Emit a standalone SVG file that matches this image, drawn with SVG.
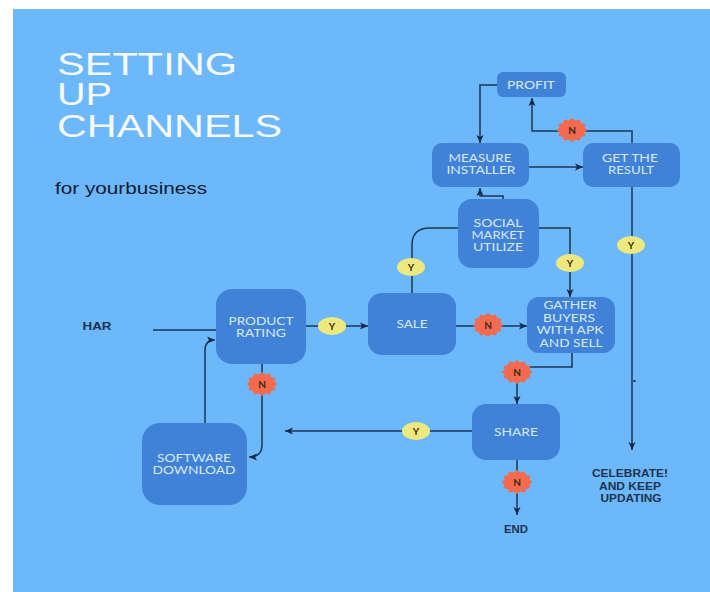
<svg xmlns="http://www.w3.org/2000/svg" xmlns:xlink="http://www.w3.org/1999/xlink" width="710" height="592" viewBox="0 0 710 592">
<style>
.node rect{fill:#4082D8}
.nt{font-family:Lato,"Liberation Sans",sans-serif;font-size:11px;fill:#D8E8FA;text-anchor:middle}
.title{font-family:"Liberation Sans",Arial,sans-serif;font-size:27px;fill:#F6FAFD}
.lbl{font-family:"Liberation Sans",Arial,sans-serif;font-weight:bold;font-size:10px;fill:#1C3350;text-anchor:middle}
.conn path{fill:none;stroke:#1C3656;stroke-width:1.5}
.yb ellipse{fill:#EEE97E}
.nb use{fill:#F46A4E}
.bt{font-family:Lato,"Liberation Sans",sans-serif;font-weight:bold;font-size:10px;fill:#3A2A14;text-anchor:middle}
</style>
<defs>
<marker id="arr" markerUnits="userSpaceOnUse" markerWidth="9" markerHeight="8" refX="8" refY="4" orient="auto">
<path d="M0,0.5 L8,4 L0,7.5 L2,4 Z" fill="#14294A"/>
</marker>
<polygon id="star" points="12,0 9.47,2.54 10.39,6 6.93,6.93 6,10.39 2.54,9.47 0,12 -2.54,9.47 -6,10.39 -6.93,6.93 -10.39,6 -9.47,2.54 -12,0 -9.47,-2.54 -10.39,-6 -6.93,-6.93 -6,-10.39 -2.54,-9.47 0,-12 2.54,-9.47 6,-10.39 6.93,-6.93 10.39,-6 9.47,-2.54"/>
</defs>
<rect x="0" y="0" width="710" height="592" fill="#FFFFFF"/>
<rect x="13" y="9" width="697" height="583" fill="#6CB8FA"/>

<g id="title">
<text class="title" x="57" y="75" transform="translate(0,-10.5) scale(1,1.14)" textLength="180" lengthAdjust="spacingAndGlyphs">SETTING</text>
<text class="title" x="57" y="105" transform="translate(0,-14.7) scale(1,1.14)" textLength="55" lengthAdjust="spacingAndGlyphs">UP</text>
<text class="title" x="57" y="137" transform="translate(0,-19.2) scale(1,1.14)" textLength="225" lengthAdjust="spacingAndGlyphs">CHANNELS</text>
<text x="55" y="194" font-family="Liberation Sans, Arial, sans-serif" font-size="16" fill="#0E1B33" textLength="152" lengthAdjust="spacingAndGlyphs">for yourbusiness</text>
</g>

<g id="connectors" class="conn">
<path d="M153,330 H216"/>
<path d="M205,423 V350 Q205,340 215,340" marker-end="url(#arr)"/>
<path d="M262,364 V445 Q262,457 249,457" marker-end="url(#arr)"/>
<path d="M306,326 H368" marker-end="url(#arr)"/>
<path d="M412,293 V245 Q412,228 430,228 H458"/>
<path d="M539,228 H570 V297" marker-end="url(#arr)"/>
<path d="M503,203 V196 H480 V188" marker-end="url(#arr)"/>
<path d="M529,167 H583" marker-end="url(#arr)"/>
<path d="M497,85 H480 V143" marker-end="url(#arr)"/>
<path d="M632,143 V131 H532 V98" marker-end="url(#arr)"/>
<path d="M632,187 V450" marker-end="url(#arr)"/>
<path d="M633,381 H636"/>
<path d="M456,326 H527" marker-end="url(#arr)"/>
<path d="M572,353 V367 H517 V404" marker-end="url(#arr)"/>
<path d="M472,431 H285" marker-end="url(#arr)"/>
<path d="M517,460 V515" marker-end="url(#arr)"/>
</g>

<g id="node-profit" class="node"><rect x="497" y="72" width="69" height="25" rx="6"/>
<text class="nt" x="531" y="89" textLength="48" lengthAdjust="spacingAndGlyphs">PROFIT</text></g>

<g id="node-measure" class="node"><rect x="432" y="143" width="97" height="44" rx="10"/>
<text class="nt" x="480" y="162" textLength="63" lengthAdjust="spacingAndGlyphs">MEASURE</text>
<text class="nt" x="481" y="174" textLength="69" lengthAdjust="spacingAndGlyphs">INSTALLER</text></g>

<g id="node-result" class="node"><rect x="583" y="143" width="97" height="44" rx="10"/>
<text class="nt" x="630" y="162" textLength="56" lengthAdjust="spacingAndGlyphs">GET THE</text>
<text class="nt" x="631" y="174" textLength="46" lengthAdjust="spacingAndGlyphs">RESULT</text></g>

<g id="node-social" class="node"><rect x="458" y="199" width="81" height="69" rx="14"/>
<text class="nt" x="498" y="227" textLength="49" lengthAdjust="spacingAndGlyphs">SOCIAL</text>
<text class="nt" x="498" y="239" textLength="53" lengthAdjust="spacingAndGlyphs">MARKET</text>
<text class="nt" x="498" y="251" textLength="50" lengthAdjust="spacingAndGlyphs">UTILIZE</text></g>

<g id="node-product" class="node"><rect x="216" y="289" width="90" height="75" rx="16"/>
<text class="nt" x="261" y="325" textLength="65" lengthAdjust="spacingAndGlyphs">PRODUCT</text>
<text class="nt" x="261" y="337" textLength="50" lengthAdjust="spacingAndGlyphs">RATING</text></g>

<g id="node-sale" class="node"><rect x="368" y="293" width="88" height="62" rx="14"/>
<text class="nt" x="412" y="328" textLength="31" lengthAdjust="spacingAndGlyphs">SALE</text></g>

<g id="node-gather" class="node"><rect x="527" y="297" width="88" height="56" rx="12"/>
<text class="nt" x="570" y="309" textLength="53" lengthAdjust="spacingAndGlyphs">GATHER</text>
<text class="nt" x="569" y="322" textLength="52" lengthAdjust="spacingAndGlyphs">BUYERS</text>
<text class="nt" x="570" y="334" textLength="67" lengthAdjust="spacingAndGlyphs">WITH APK</text>
<text class="nt" x="571" y="347" textLength="63" lengthAdjust="spacingAndGlyphs">AND SELL</text></g>

<g id="node-share" class="node"><rect x="472" y="404" width="88" height="56" rx="14"/>
<text class="nt" x="516" y="436" textLength="44" lengthAdjust="spacingAndGlyphs">SHARE</text></g>

<g id="node-software" class="node"><rect x="142" y="423" width="105" height="82" rx="18"/>
<text class="nt" x="194" y="462" textLength="74" lengthAdjust="spacingAndGlyphs">SOFTWARE</text>
<text class="nt" x="194" y="474" textLength="83" lengthAdjust="spacingAndGlyphs">DOWNLOAD</text></g>

<g id="node-har"><text class="lbl" x="97" y="330" font-size="10.5" textLength="29" lengthAdjust="spacingAndGlyphs">HAR</text></g>
<g id="node-end"><text class="lbl" x="516" y="533" font-weight="normal" textLength="24" lengthAdjust="spacingAndGlyphs">END</text></g>
<g id="node-celebrate">
<text class="lbl" x="630" y="477" textLength="76" lengthAdjust="spacingAndGlyphs">CELEBRATE!</text>
<text class="lbl" x="630" y="490" textLength="62" lengthAdjust="spacingAndGlyphs">AND KEEP</text>
<text class="lbl" x="631" y="502" textLength="61" lengthAdjust="spacingAndGlyphs">UPDATING</text>
</g>

<g id="badges-y" class="yb">
<ellipse cx="332" cy="326" rx="14" ry="9"/><text class="bt" x="332" y="330">Y</text>
<ellipse cx="411" cy="267" rx="14" ry="9"/><text class="bt" x="411" y="271">Y</text>
<ellipse cx="570" cy="263" rx="14" ry="9"/><text class="bt" x="570" y="267">Y</text>
<ellipse cx="631" cy="245" rx="14" ry="9"/><text class="bt" x="631" y="249">Y</text>
<ellipse cx="416" cy="431" rx="14" ry="9"/><text class="bt" x="416" y="435">Y</text>
</g>

<g id="badges-n" class="nb">
<use xlink:href="#star" href="#star" transform="translate(572,130) scale(1.3,1)"/><text class="bt" x="572" y="134">N</text>
<use xlink:href="#star" href="#star" transform="translate(262,384) scale(1.3,1)"/><text class="bt" x="262" y="388">N</text>
<use xlink:href="#star" href="#star" transform="translate(488,325) scale(1.3,1)"/><text class="bt" x="488" y="329">N</text>
<use xlink:href="#star" href="#star" transform="translate(517,372) scale(1.3,1)"/><text class="bt" x="517" y="376">N</text>
<use xlink:href="#star" href="#star" transform="translate(517,482) scale(1.3,1)"/><text class="bt" x="517" y="486">N</text>
</g>
</svg>
